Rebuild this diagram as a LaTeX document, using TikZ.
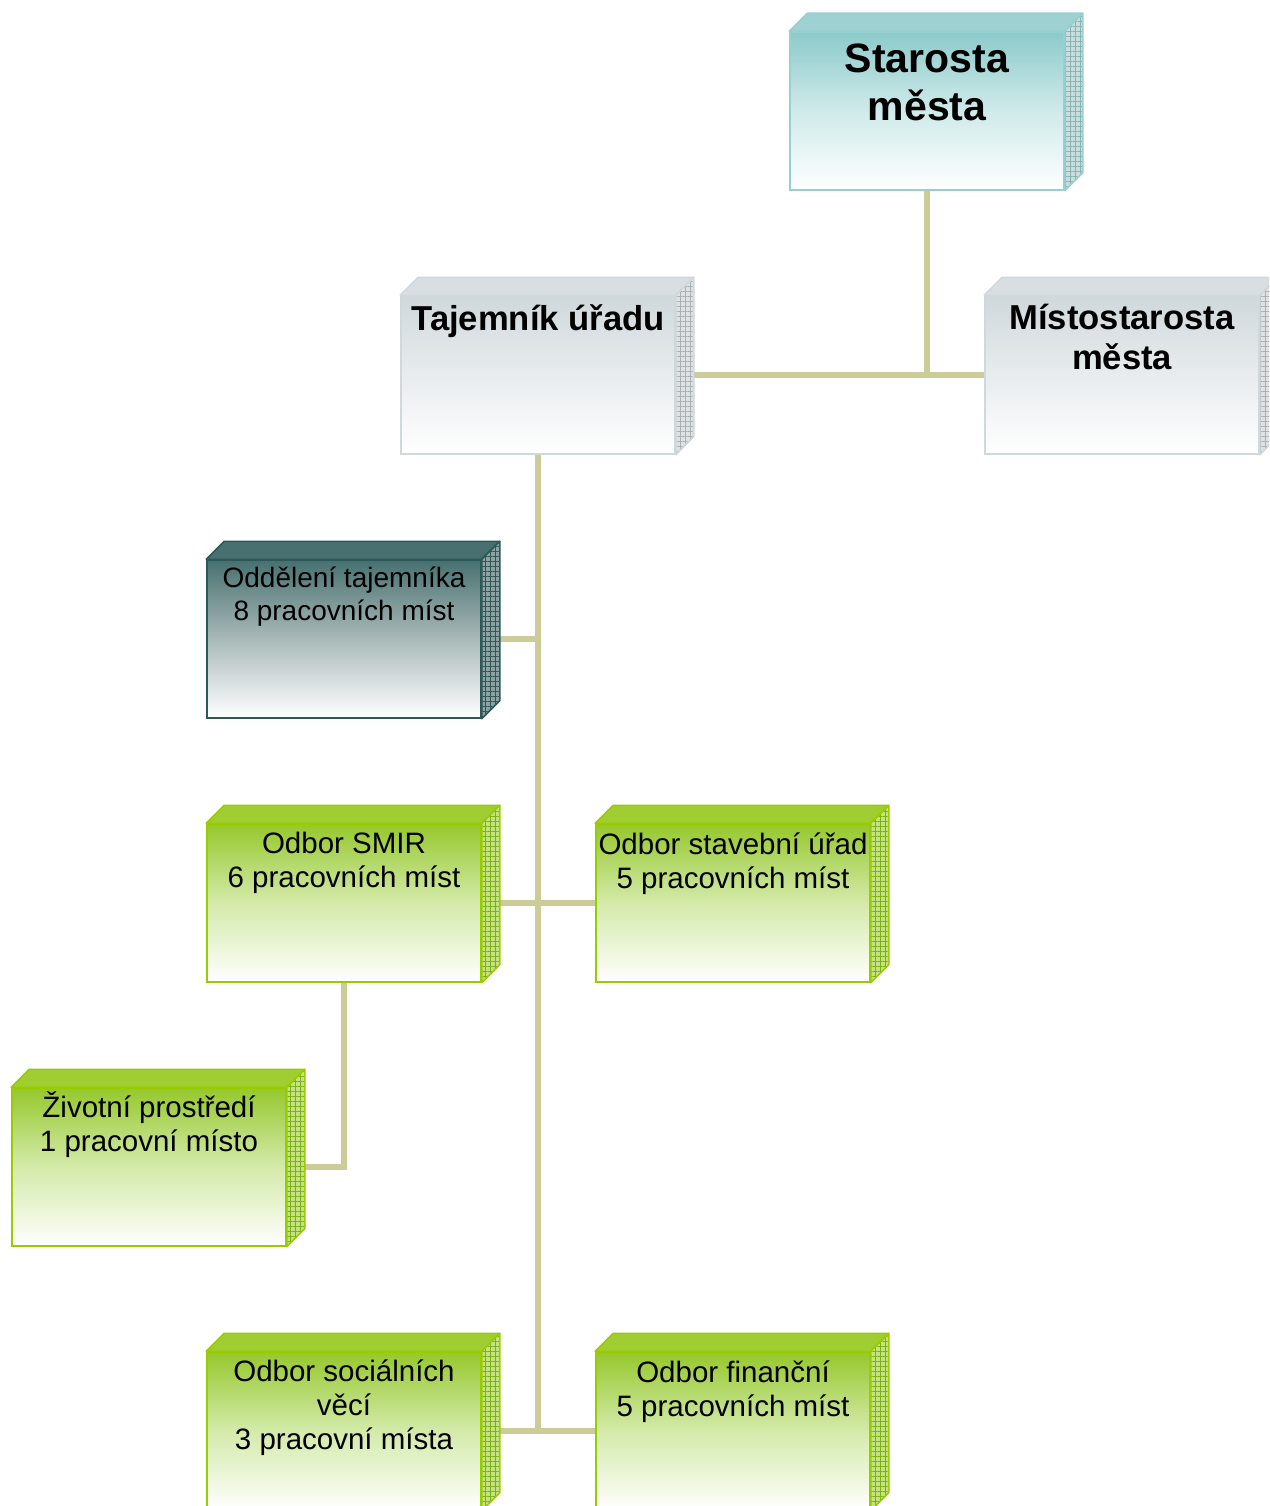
\documentclass[tikz,border=0pt]{standalone}
\usepackage{fontspec}
\setmainfont{Liberation Sans}
\usetikzlibrary{patterns.meta,backgrounds}

% connector colour
\definecolor{linkcol}{RGB}{204,204,153}
% teal box (head of the town)
\definecolor{tealbase}{RGB}{140,202,202}
\definecolor{tealmid}{RGB}{208,234,234}
\definecolor{tealedge}{RGB}{150,208,208}
\definecolor{tealtop}{RGB}{158,210,210}
\definecolor{tealside}{RGB}{200,222,222}
\definecolor{tealhatch}{RGB}{140,178,178}
% grey boxes
\definecolor{greybase}{RGB}{208,216,220}
\definecolor{greymid}{RGB}{232,236,238}
\definecolor{greyedge}{RGB}{208,216,220}
\definecolor{greytop}{RGB}{216,222,226}
\definecolor{greyside}{RGB}{222,226,228}
\definecolor{greyhatch}{RGB}{170,176,180}
% dark slate box
\definecolor{slatebase}{RGB}{72,112,112}
\definecolor{slatemid}{RGB}{170,185,185}
\definecolor{slateedge}{RGB}{45,88,88}
\definecolor{slatetop}{RGB}{72,112,112}
\definecolor{slateside}{RGB}{140,162,162}
\definecolor{slatehatch}{RGB}{50,85,85}
% green boxes
\definecolor{greenbase}{RGB}{150,200,45}
\definecolor{greenmid}{RGB}{212,234,170}
\definecolor{greenedge}{RGB}{153,204,0}
\definecolor{greentop}{RGB}{160,206,50}
\definecolor{greenside}{RGB}{196,226,130}
\definecolor{greenhatch}{RGB}{125,175,25}

\tikzset{
  orgfront/.style={rectangle, draw=#1edge, line width=1.5pt,
    top color=#1base, bottom color=white, middle color=#1mid,
    minimum width=274pt, minimum height=158pt, inner sep=0pt},
  orgtop/.style={draw=#1edge, line width=1.5pt, line join=round, fill=#1top},
  orgside/.style={draw=#1edge, line width=1.5pt, line join=round,
    preaction={fill=#1side},
    pattern={Hatch[distance=5pt, line width=0.7pt]}, pattern color=#1hatch},
  link/.style={draw=linkcol, line width=6.5pt},
  bigbold/.style={font=\fontsize{41}{48}\selectfont\bfseries, align=center, inner sep=0pt},
  midbold/.style={font=\fontsize{34.6}{40}\selectfont\bfseries, align=center, inner sep=0pt},
  plain/.style={font=\fontsize{29.5}{34}\selectfont, align=center, inner sep=0pt},
  plainsmall/.style={font=\fontsize{28}{33}\selectfont, align=center, inner sep=0pt},
}

% #1 name, #2 colour kind, #3 centre of front face, #4 text style,
% #5 gap above the text, #6 text
\newcommand\orgbox[6]{%
  \node[orgfront=#2] (#1) at (#3) {};
  \path[orgtop=#2] (#1.north west) -- ++(18,-18)
    -- ([shift={(18,-18)}]#1.north east) -- (#1.north east) -- cycle;
  \path[orgside=#2] (#1.north east) -- ++(18,-18)
    -- ([shift={(18,-18)}]#1.south east) -- (#1.south east) -- cycle;
  \node[#4, anchor=north] (#1-text) at ([yshift=-#5]#1.north) {#6};
}

\begin{document}
\begin{tikzpicture}[x=1pt, y=-1pt]
  \useasboundingbox (0,0) rectangle (1269,1506);
  \clip (0,0) rectangle (1269,1506);

  \orgbox{starosta}{teal}{927,111}{bigbold}{12pt}{Starosta\\města}
  \orgbox{tajemnik}{grey}{538,375}{midbold}{9pt}{Tajemník úřadu}
  \orgbox{misto}{grey}{1122,375}{midbold}{9pt}{Místostarosta\\města}
  \orgbox{oddeleni}{slate}{344,639}{plainsmall}{7pt}{Oddělení tajemníka\\8 pracovních míst}
  \orgbox{smir}{green}{344,903}{plain}{9pt}{Odbor SMIR\\6 pracovních míst}
  \orgbox{stavebni}{green}{733,903}{plain}{9pt}{Odbor stavební úřad\\5 pracovních míst}
  \orgbox{zivotni}{green}{149,1167}{plain}{4pt}{Životní prostředí\\1 pracovní místo}
  \orgbox{socialni}{green}{344,1431}{plain}{8pt}{Odbor sociálních\\věcí\\3 pracovní místa}
  \orgbox{financni}{green}{733,1431}{plain}{9pt}{Odbor finanční\\5 pracovních míst}

  \begin{scope}[on background layer]
    \draw[link] (starosta.south) -- (starosta.south |- tajemnik.east);
    \draw[link] (tajemnik.east) -- (misto.west);
    \draw[link] (tajemnik.south) -- (tajemnik.south |- socialni.east);
    \draw[link] (oddeleni.east) -- (oddeleni.east -| tajemnik.south);
    \draw[link] (smir.east) -- (stavebni.west);
    \draw[link] (socialni.east) -- (financni.west);
    \draw[link] (smir.south) -- (smir.south |- zivotni.east) -- (zivotni.east);
  \end{scope}
\end{tikzpicture}
\end{document}
